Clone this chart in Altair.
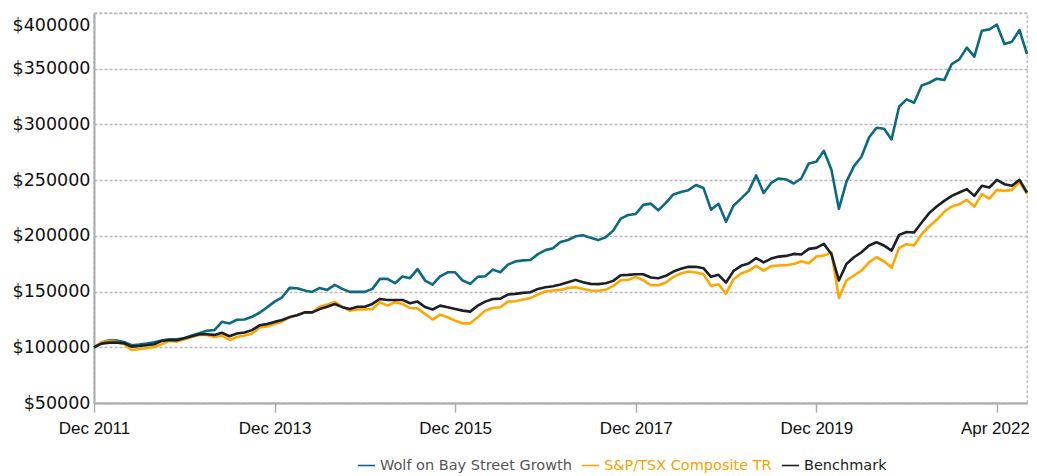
import json
import altair as alt
import pandas as pd

# ---- data (month index 0 = Dec 2011 ... 124 = Apr 2022) ----
series_names = ["Wolf on Bay Street Growth", "S&P/TSX Composite TR", "Benchmark"]
series_colors = ["#0b6a82", "#ffa600", "#1c2026"]
label_colors = ["#555555", "#f5a300", "#222222"]

tick_months = [0, 24, 48, 72, 96, 120]
tick_labels = ["Dec 2011", "Dec 2013", "Dec 2015", "Dec 2017", "Dec 2019", "Apr 2022"]
y_ticks = [50000, 100000, 150000, 200000, 250000, 300000, 350000, 400000]

wolf = [
    100000, 104200, 106300, 106000, 104800, 101800, 102400, 103300, 104500, 106000,
    107200, 107200, 108100, 110500, 112600, 114800, 115400, 122900, 121400, 124700,
    125000, 127400, 131000, 135800, 141000, 144900, 153300, 153000, 150900, 149700,
    153300, 151500, 156000, 152400, 149700, 149700, 149700, 152400, 161400, 161400,
    157500, 163600, 162000, 170200, 159900, 156300, 163600, 167300, 167300, 159900,
    156900, 163200, 163700, 169700, 167300, 174200, 177000, 178000, 178300, 183600,
    187200, 188800, 194500, 196300, 199600, 200600, 198200, 196200, 198800, 204700,
    215400, 218700, 219600, 227800, 228900, 222900, 229600, 237200, 239400, 241000,
    245600, 243000, 223500, 228800, 212700, 227300, 233400, 240100, 254300, 238500,
    247500, 251500, 250600, 247000, 251500, 265000, 266500, 276300, 259600, 224300,
    248500, 262600, 271000, 288300, 297000, 296100, 286500, 315900, 322500, 319500,
    335000, 337400, 341000, 339800, 354200, 358400, 368900, 360800, 384100, 385300,
    389500, 372200, 374300, 384700, 363200,
]

tsx = [
    100000, 104200, 105700, 104800, 102700, 97600, 98500, 99100, 100300, 102700,
    105700, 105100, 106900, 109300, 111100, 111100, 109300, 110500, 106600, 109300,
    110500, 112300, 117800, 118600, 120800, 123200, 126800, 128900, 131300, 131300,
    136400, 138300, 140700, 136400, 132800, 134000, 134000, 134300, 140400, 137400,
    140400, 138900, 135200, 134900, 129900, 124900, 129300, 126900, 123900, 121500,
    121500, 126900, 132900, 135300, 135900, 141000, 141300, 142800, 144300, 147300,
    150000, 150900, 151500, 153300, 153900, 152400, 150900, 150700, 151600, 155100,
    160200, 160500, 163200, 160200, 155700, 155700, 158100, 163200, 166200, 168000,
    167100, 165600, 155100, 156600, 148200, 161100, 166200, 168600, 173100, 168800,
    172800, 173400, 173700, 174800, 177200, 175400, 181400, 182300, 185300, 144300,
    159900, 164400, 168900, 176300, 180800, 177200, 171300, 189200, 192500, 191600,
    201500, 208400, 214400, 221600, 226300, 228400, 232300, 226300, 237400, 233500,
    241300, 240400, 241300, 248500, 237400,
]

bench = [
    100000, 103300, 104200, 104200, 103600, 100600, 101200, 101800, 102700, 105700,
    106600, 106300, 108100, 109900, 111700, 111700, 111100, 113000, 109900, 112300,
    113300, 115400, 119700, 120800, 122800, 124500, 127100, 128700, 131300, 131300,
    134300, 136400, 138900, 136000, 134300, 136400, 136400, 138900, 143400, 142500,
    142500, 142500, 139500, 141000, 136100, 133900, 137400, 135900, 134400, 132900,
    132000, 137400, 141000, 143400, 143700, 147300, 147900, 148800, 149400, 152400,
    153900, 154800, 156300, 158400, 160500, 158400, 156900, 156700, 157500, 159600,
    164700, 165000, 165600, 165600, 162600, 162000, 164100, 168000, 170400, 172200,
    172200, 171000, 163200, 165000, 158100, 168600, 173100, 175200, 180000, 176200,
    179600, 181400, 182000, 183800, 183200, 188300, 189200, 192800, 183800, 159900,
    174800, 180800, 185300, 191300, 194300, 191300, 186800, 200900, 203400, 203000,
    212000, 220400, 226300, 231400, 235900, 238900, 241900, 235900, 244900, 243400,
    250300, 246400, 244900, 250300, 238900,
]

rows = []
for name, vals in zip(series_names, [wolf, tsx, bench]):
    for m, v in enumerate(vals):
        rows.append({"month": m, "value": v, "series": name})
df = pd.DataFrame(rows)

x_label_expr = "{}[indexof({}, datum.value)]".format(json.dumps(tick_labels), json.dumps(tick_months))
legend_color_expr = "datum.label == {} ? '{}' : (datum.label == {} ? '{}' : '{}')".format(
    json.dumps(series_names[1]), label_colors[1],
    json.dumps(series_names[2]), label_colors[2], label_colors[0])

chart = alt.Chart(df).mark_line(strokeWidth=2.6, strokeJoin="round").encode(
    x=alt.X(
        "month:Q",
        scale=alt.Scale(domain=[0, 124], nice=False, zero=False),
        axis=alt.Axis(
            values=tick_months, labelExpr=x_label_expr, title=None, grid=False,
            domainColor="#aaaaaa", domainWidth=2, tickColor="#aaaaaa", tickWidth=1.5,
            tickSize=9, labelPadding=8, labelFont="Liberation Sans", labelFontSize=17,
            labelColor="#111111", labelOverlap=False, labelFlush=False,
            labelOffset=alt.ExprRef(expr="datum.value == 120 ? -2 : 0"),
        ),
    ),
    y=alt.Y(
        "value:Q",
        scale=alt.Scale(domain=[50000, 400000], nice=False, zero=False),
        axis=alt.Axis(
            values=y_ticks, labelExpr="'$' + datum.value", title=None, grid=True,
            gridColor="#b8b8b8", gridDash=[3, 2], gridWidth=1.3, ticks=False,
            domainColor="#aaaaaa", domainWidth=2, labelPadding=4,
            labelFont="DejaVu Sans", labelFontSize=17.5, labelColor="#111111",
            labelOffset=alt.ExprRef(expr="datum.value == 400000 ? 12 : 0"),
        ),
    ),
    color=alt.Color(
        "series:N",
        scale=alt.Scale(domain=series_names, range=series_colors),
        legend=alt.Legend(
            title=None, orient="none", legendX=263, legendY=443, direction="horizontal",
            symbolType="stroke", symbolStrokeWidth=1.6, symbolSize=300,
            labelFont="DejaVu Sans", labelFontSize=14.5, columnPadding=6, labelLimit=400,
            labelColor=alt.ExprRef(expr=legend_color_expr),
        ),
    ),
).properties(
    width=933,
    height=390,
    autosize=alt.AutoSizeParams(type="none"),
    padding={"left": 86, "top": 5, "right": 2, "bottom": 73},
).configure_view(
    stroke="#b8b8b8", strokeDash=[3, 2], strokeWidth=1.3
)

chart.save("out.html", embed_options={"renderer": "svg", "actions": False})
